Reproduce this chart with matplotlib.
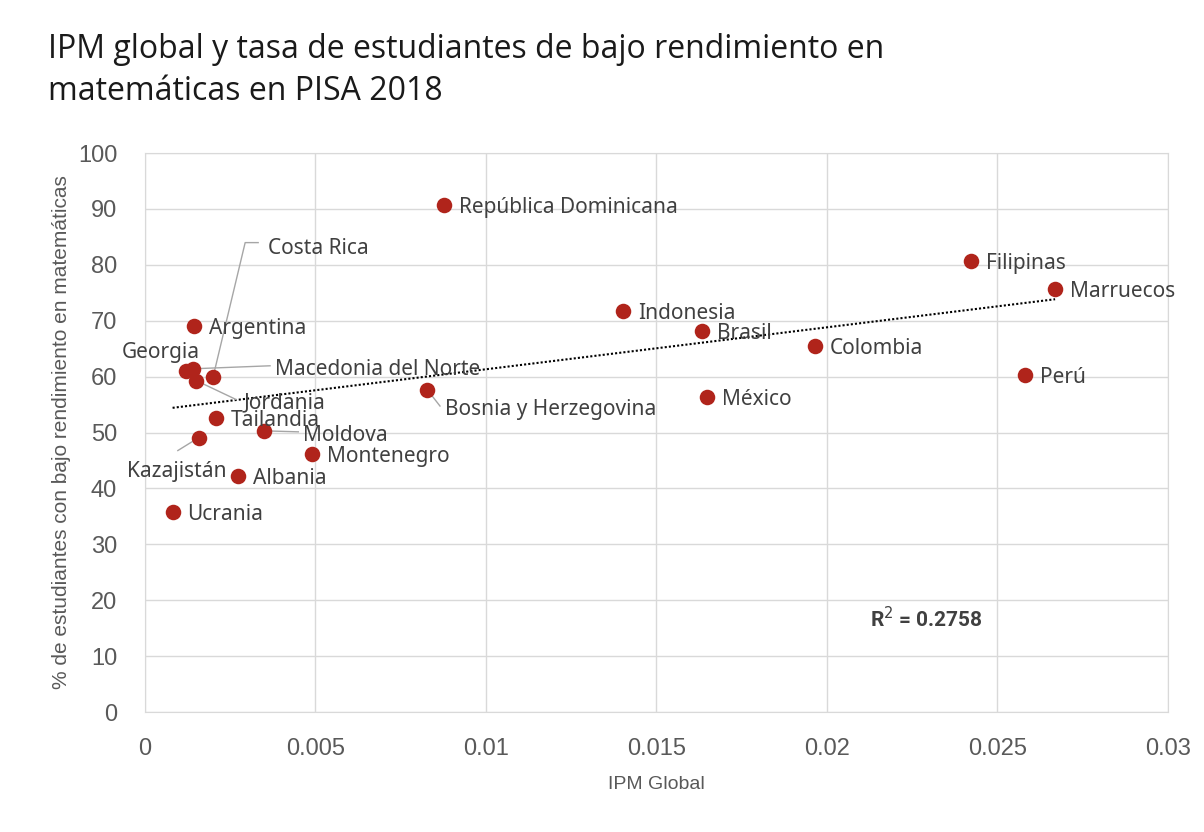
import numpy as np
import matplotlib.pyplot as plt

# --- data ---
paises = ["República Dominicana", "Filipinas", "Marruecos", "Indonesia", "Brasil",
          "Colombia", "Perú", "México", "Bosnia y Herzegovina", "Argentina",
          "Georgia", "Macedonia del Norte", "Costa Rica", "Jordania", "Tailandia",
          "Moldova", "Kazajistán", "Montenegro", "Albania", "Ucrania"]
ipm = [0.00877, 0.02422, 0.02669, 0.01402, 0.01633,
       0.01965, 0.02581, 0.01648, 0.00827, 0.00144,
       0.00120, 0.00141, 0.00200, 0.00150, 0.00208,
       0.00350, 0.00158, 0.00489, 0.00272, 0.00081]
bajo_rend = [90.7, 80.7, 75.7, 71.7, 68.2,
             65.5, 60.3, 56.4, 57.6, 69.1,
             61.0, 61.4, 60.0, 59.3, 52.6,
             50.3, 49.1, 46.1, 42.3, 35.8]

# label placement in pixel offsets from the dot (dx right, dy down), alignment,
# and leader line vertices (pixel offsets) when the label was moved away
default_label = ((15, 0), "left", None)
label_pos = {
    "Bosnia y Herzegovina": ((18, 17), "left", [(0, 0), (6, 7), (13, 16)]),
    "Georgia": ((-25, -21), "center", None),
    "Macedonia del Norte": ((82, -2), "left", [(0, 0), (77, -3)]),
    "Costa Rica": ((55, -131), "left", [(0, 0), (32, -134), (45, -134)]),
    "Jordania": ((47, 20), "left", [(0, 0), (40, 19)]),
    "Moldova": ((39, 2), "left", [(0, 0), (34, 1)]),
    "Kazajistán": ((-22, 31), "center", [(0, 0), (-21, 13)]),
}

dot_color = "#B0241B"
text_color = "#404040"
tick_color = "#595959"
leader_color = "#A6A6A6"

fig = plt.figure(figsize=(12.04, 8.32), dpi=100)
ax = fig.add_axes([0.1204, 0.1442, 0.8497, 0.6719])
ax.set_xlim(0, 0.03)
ax.set_ylim(0, 100)

x = np.array(ipm)
y = np.array(bajo_rend)

# linear trendline
coef = np.polyfit(x, y, 1)
xs = np.array([x.min(), x.max()])
ax.plot(xs, np.polyval(coef, xs), linestyle=(0, (1, 1)), color="black", lw=1.5, zorder=2)

ax.scatter(x, y, s=125, color=dot_color, zorder=3, linewidths=0)

px_to_pt = 72 / fig.dpi
to_data = ax.transData.inverted()
for name, xi, yi in zip(paises, ipm, bajo_rend):
    (dx, dy), ha, leader = label_pos.get(name, default_label)
    ax.annotate(name, (xi, yi), xytext=(dx * px_to_pt, -(dy + 2.5) * px_to_pt),
                textcoords="offset points", fontsize=15, color=text_color,
                ha=ha, va="center", family="Noto Sans", zorder=4)
    if leader:
        bx, by = ax.transData.transform((xi, yi))
        pts = to_data.transform([(bx + lx, by - ly) for lx, ly in leader])
        ax.plot(pts[:, 0], pts[:, 1], color=leader_color, lw=1, zorder=2)

ax.text(0.02126, 16.8, "R$^2$ = 0.2758", fontsize=15, fontweight="bold",
        color=text_color, family="Roboto", va="center")

ax.set_xticks([0, 0.005, 0.01, 0.015, 0.02, 0.025, 0.03])
ax.set_xticklabels(["0", "0.005", "0.01", "0.015", "0.02", "0.025", "0.03"])
ax.set_yticks(range(0, 101, 10))
ax.grid(True, color="#D9D9D9", lw=1)
ax.set_axisbelow(True)
for s in ax.spines.values():
    s.set_color("#D9D9D9")
ax.tick_params(length=0, labelsize=17, labelcolor=tick_color)
ax.tick_params(axis="x", pad=19)
ax.tick_params(axis="y", pad=20)
for lab in ax.get_xticklabels() + ax.get_yticklabels():
    lab.set_family("Liberation Sans")

ax.set_xlabel("IPM Global", fontsize=14, color=tick_color, family="Liberation Sans", labelpad=11)
ax.set_ylabel("% de estudiantes con bajo rendimiento en matemáticas", fontsize=15,
              color=tick_color, family="Liberation Sans", labelpad=5)

fig.text(0.04, 0.96, "IPM global y tasa de estudiantes de bajo rendimiento en\nmatemáticas en PISA 2018",
         fontsize=23, color="#1a1a1a", va="top", ha="left", family="Open Sans", linespacing=1.33)

fig.savefig("out.png", dpi=100)
